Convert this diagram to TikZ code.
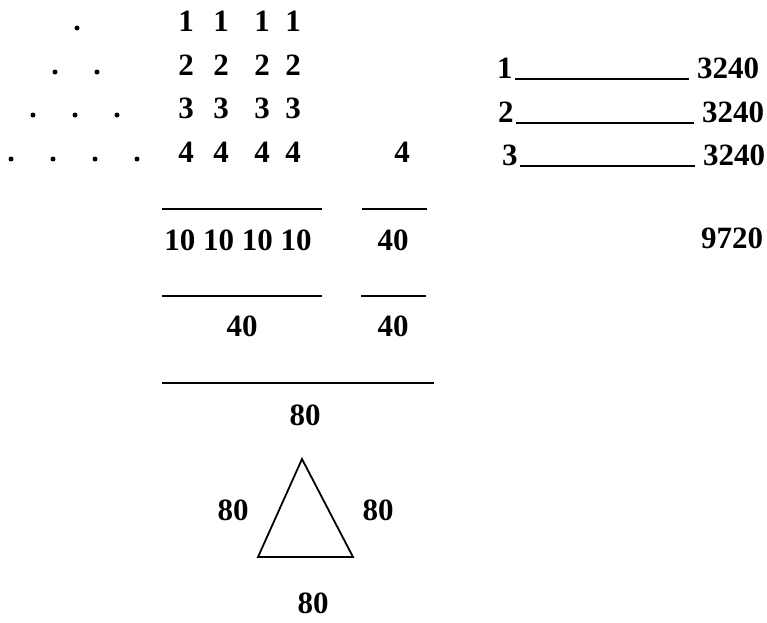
\documentclass[tikz,border=0pt]{standalone}
\usepackage{fontspec}
\setmainfont{Liberation Serif}
\usepackage{tikz}
\usetikzlibrary{calc}

\begin{document}
\begin{tikzpicture}[
    x=1pt, y=-1pt,
    num/.style={font=\fontsize{31}{36}\selectfont\bfseries, anchor=base, inner sep=0pt},
    dot/.style={circle, fill=black, inner sep=0pt, minimum size=5pt},
    rule/.style={line width=1.8pt},
]
\useasboundingbox (0,0) rectangle (767,622);

% dots and rows of digits
\foreach \r/\y in {1/31, 2/75, 3/118, 4/162} {
    \foreach \k in {1,...,\r}
        \node[dot] (d\r\k) at ({77-22*(\r-1)+42*(\k-1)}, \y-3) {};
    \foreach \c/\x in {1/186, 2/221, 3/262, 4/293}
        \node[num] (n\r\c) at (\x,\y) {\r};
}
\node[num] (four) at (402,162) {4};

% sums
\draw[rule] (162,209) -- (322,209);
\draw[rule] (362,209) -- (427,209);
\node[num] (tens) at (238,250) {10 10 10 10};
\node[num] (fortyA) at (393,250) {40};
\draw[rule] (162,296) -- (322,296);
\draw[rule] (361,296) -- (426,296);
\node[num] (fortyB) at (242,336) {40};
\node[num] (fortyC) at (393,336) {40};
\draw[rule] (162,383) -- (434,383);
\node[num] (total) at (305,425) {80};

% triangle
\coordinate (top) at (302,459);
\coordinate (bl) at (258,557);
\coordinate (br) at (353,557);
\draw[rule, line join=miter] (top) -- (bl) -- (br) -- cycle;
\node[num] (sideL) at (233,520) {80};
\node[num] (sideR) at (378,520) {80};
\node[num] (sideB) at (313,613) {80};

% right column
\foreach \i/\y/\xa/\xb in {1/78/497/697, 2/122/498/702, 3/165/502/703} {
    \node[num, anchor=base west] (k\i) at (\xa,\y) {\i};
    \node[num, anchor=base west] (s\i) at (\xb,\y) {3240};
    \draw[rule, shorten <=2pt, shorten >=8pt]
        ([yshift=-1pt]k\i.base east) -- ([yshift=-1pt]s\i.base west);
}
\node[num] (sum) at (732,248) {9720};
\end{tikzpicture}
\end{document}
